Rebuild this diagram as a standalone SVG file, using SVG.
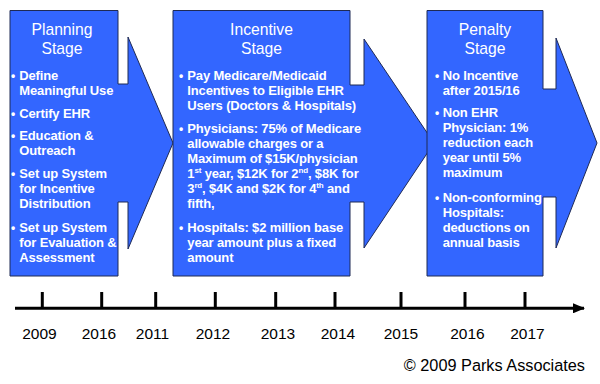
<svg xmlns="http://www.w3.org/2000/svg" width="600" height="384" viewBox="0 0 600 384">
<defs>
<style>
.stage{fill:#3366FF;stroke:#1f2a55;stroke-width:1;}
.title{font-family:"Liberation Sans",Arial,sans-serif;font-size:15.7px;fill:#ffffff;text-anchor:middle;}
.b{font-family:"Liberation Sans",Arial,sans-serif;font-size:13px;font-weight:bold;fill:#ffffff;letter-spacing:-0.15px;}
.dot{font-family:"Liberation Sans",Arial,sans-serif;font-size:12px;font-weight:bold;fill:#ffffff;}
.yr{font-family:"Liberation Sans",Arial,sans-serif;font-size:15.5px;fill:#000000;text-anchor:middle;}
.tick{stroke:#000;stroke-width:3;}
</style>
<marker id="ah" markerWidth="12" markerHeight="10" refX="11" refY="5" orient="auto" markerUnits="userSpaceOnUse">
<path d="M0,0 L12,5 L0,10 Z" fill="#000"/>
</marker>
</defs>
<rect width="600" height="384" fill="#ffffff"/>

<g id="planning">
<path class="stage" d="M10,10.5 H118 V84 H128 V37 L173,143 L128,249 V202 H118 V276 H10 Z"/>
<text class="title" x="62" y="35">Planning</text>
<text class="title" x="62" y="54">Stage</text>
<g class="dot"><text x="11" y="80">•</text><text x="11" y="117.7">•</text><text x="11" y="140">•</text><text x="11" y="178">•</text><text x="11" y="231.7">•</text></g>
<text class="b" x="19.3" y="80">Define</text>
<text class="b" x="19.3" y="95.3">Meaningful Use</text>
<text class="b" x="19.3" y="117.7">Certify EHR</text>
<text class="b" x="19.3" y="140">Education &amp;</text>
<text class="b" x="19.3" y="155">Outreach</text>
<text class="b" x="19.3" y="178">Set up System</text>
<text class="b" x="19.3" y="193.3">for Incentive</text>
<text class="b" x="19.3" y="208.3">Distribution</text>
<text class="b" x="19.3" y="231.7">Set up System</text>
<text class="b" x="19.3" y="246.7">for Evaluation &amp;</text>
<text class="b" x="19.3" y="261.7">Assessment</text>
</g>

<g id="incentive">
<path class="stage" d="M173,10.5 H350 V85 H364 V39 L434,143 L364,248 V202 H350 V276 H173 Z"/>
<text class="title" x="261.5" y="35">Incentive</text>
<text class="title" x="261.5" y="54">Stage</text>
<g class="dot"><text x="179" y="80">•</text><text x="179" y="132.7">•</text><text x="179" y="231.7">•</text></g>
<text class="b" x="187.3" y="80">Pay Medicare/Medicaid</text>
<text class="b" x="187.3" y="95">Incentives to Eligible EHR</text>
<text class="b" x="187.3" y="110">Users (Doctors &amp; Hospitals)</text>
<text class="b" x="187.3" y="132.7">Physicians: 75% of Medicare</text>
<text class="b" x="187.3" y="147.7">allowable charges or a</text>
<text class="b" x="187.3" y="162.7">Maximum of $15K/physician</text>
<text class="b" x="187.3" y="178.3">1<tspan font-size="8" dy="-5">st</tspan><tspan dy="5"> year, $12K for 2</tspan><tspan font-size="8" dy="-5">nd</tspan><tspan dy="5">, $8K for</tspan></text>
<text class="b" x="187.3" y="193.3">3<tspan font-size="8" dy="-5">rd</tspan><tspan dy="5">, $4K and $2K for 4</tspan><tspan font-size="8" dy="-5">th</tspan><tspan dy="5"> and</tspan></text>
<text class="b" x="187.3" y="208.3">fifth,</text>
<text class="b" x="187.3" y="231.7">Hospitals: $2 million base</text>
<text class="b" x="187.3" y="246.7">year amount plus a fixed</text>
<text class="b" x="187.3" y="261.7">amount</text>
</g>

<g id="penalty">
<path class="stage" d="M427,10.5 H543 V89 H556 V38 L597,143 L556,248 V197 H543 V276 H427 Z"/>
<text class="title" x="485" y="35">Penalty</text>
<text class="title" x="485" y="54">Stage</text>
<g class="dot"><text x="435" y="80">•</text><text x="435" y="116.7">•</text><text x="435" y="201.7">•</text></g>
<text class="b" x="442.7" y="80">No Incentive</text>
<text class="b" x="442.7" y="95">after 2015/16</text>
<text class="b" x="442.7" y="116.7">Non EHR</text>
<text class="b" x="442.7" y="131.7">Physician: 1%</text>
<text class="b" x="442.7" y="146.7">reduction each</text>
<text class="b" x="442.7" y="161.7">year until 5%</text>
<text class="b" x="442.7" y="176.7">maximum</text>
<text class="b" x="442.7" y="201.7">Non-conforming</text>
<text class="b" x="442.7" y="216.7">Hospitals:</text>
<text class="b" x="442.7" y="231.7">deductions on</text>
<text class="b" x="442.7" y="246.7">annual basis</text>
</g>

<g id="timeline">
<line x1="15" y1="308.3" x2="584" y2="308.3" stroke="#000" stroke-width="3" marker-end="url(#ah)"/>
<line class="tick" x1="42.3" y1="292" x2="42.3" y2="308"/>
<line class="tick" x1="101.7" y1="292" x2="101.7" y2="308"/>
<line class="tick" x1="155.7" y1="292" x2="155.7" y2="308"/>
<line class="tick" x1="215.3" y1="292" x2="215.3" y2="308"/>
<line class="tick" x1="275.7" y1="292" x2="275.7" y2="308"/>
<line class="tick" x1="335" y1="292" x2="335" y2="308"/>
<line class="tick" x1="401" y1="292" x2="401" y2="308"/>
<line class="tick" x1="465" y1="292" x2="465" y2="308"/>
<line class="tick" x1="525" y1="292" x2="525" y2="308"/>
<text class="yr" x="39.5" y="338.5">2009</text>
<text class="yr" x="99" y="338.5">2016</text>
<text class="yr" x="152.5" y="338.5">2011</text>
<text class="yr" x="213" y="338.5">2012</text>
<text class="yr" x="278" y="338.5">2013</text>
<text class="yr" x="338" y="338.5">2014</text>
<text class="yr" x="401" y="338.5">2015</text>
<text class="yr" x="467.5" y="338.5">2016</text>
<text class="yr" x="527.5" y="338.5">2017</text>
</g>

<text x="585" y="371" font-family="'Liberation Sans',Arial,sans-serif" font-size="16.3" text-anchor="end" fill="#000">© 2009 Parks Associates</text>
</svg>
